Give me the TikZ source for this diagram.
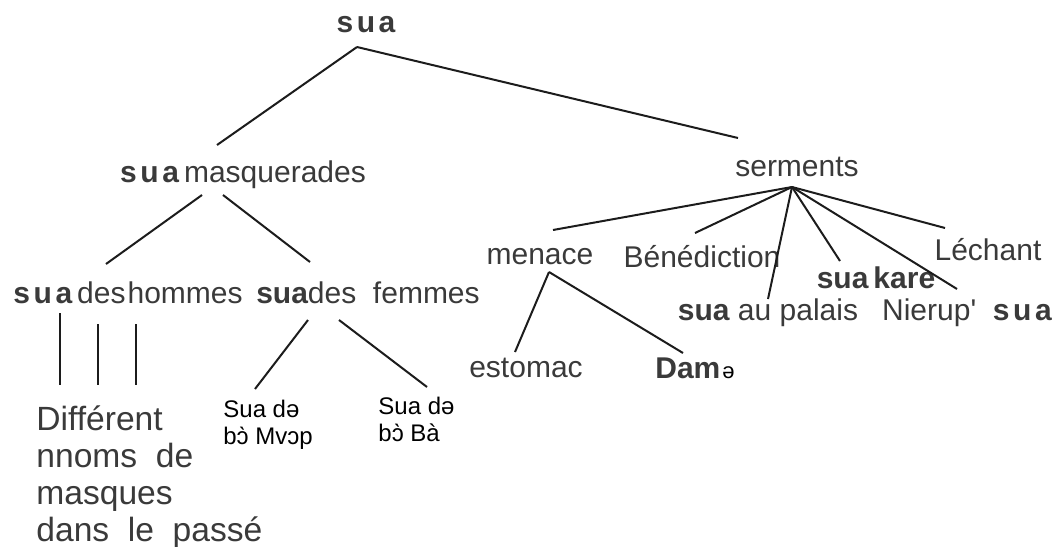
\documentclass[tikz,border=0pt]{standalone}
\usepackage{fontspec}
\setmainfont{Liberation Sans}
\newfontfamily\spacedfont[LetterSpace=12]{Liberation Sans}
\usepackage{xcolor}
\usepackage{tikz}
\usetikzlibrary{positioning}
\usetikzlibrary{calc}

\definecolor{scan}{HTML}{3A3A3A}
\definecolor{ink}{HTML}{1C1C1C}
\newcommand{\ssua}{{\spacedfont\bfseries sua}}
\newcommand{\bsua}{{\bfseries sua}}

\tikzset{
	lab/.style={inner sep=0pt, text=scan, font=\fontsize{15}{18}\selectfont},
	note/.style={inner sep=0pt, anchor=north west, align=left, font=\fontsize{12}{13.5}\selectfont},
	branch/.style={draw=ink, line width=1pt},
}

\begin{document}
\begin{tikzpicture}[x=0.5pt, y=-0.5pt]
	\useasboundingbox (0,0) rectangle (1054,546);

	\node[lab] (top) at (366,25) {\ssua};
	\node[lab] (masq) at (243,175) {\ssua\,masquerades};
	\node[lab] (serm) at (797,167) {serments};

	\draw[branch] ($(top)+(-9,22)$) -- ($(masq)+(-26,-30)$);
	\draw[branch] ($(top)+(-9,22)$) -- ($(serm)+(-59,-29)$);

	% left part
	\node[lab] (hom) at (128,293) {\ssua\,des\kern1pt hommes};
	\node[lab] (fem) at (368,293) {\bsua des\ \ femmes};
	\draw[branch] ($(masq)+(-41,20)$) -- ($(hom)+(-22,-29)$);
	\draw[branch] ($(masq)+(-20,20)$) -- ($(fem)+(-58,-31)$);

	\node[lab, anchor=north west, align=left, font=\fontsize{16.8}{18.5}\selectfont] (diff) at (36,405)
		{Différent\\nnoms\ \ de\\masques\\dans\ \ le\ \ passé};
	\draw[branch] ($(hom)+(-68,20)$) -- ($(diff.north west)+(24,-20)$);
	\draw[branch] ($(hom)+(-30,31)$) -- ($(diff.north west)+(62,-20)$);
	\draw[branch] ($(hom)+(8,31)$) -- ($(diff.north west)+(100,-20)$);

	\node[note] (mvop) at (223,400) {Sua də\\bɔ̀ Mvɔp};
	\node[note] (ba) at (378,397) {Sua də\\bɔ̀ Bà};
	\draw[branch] ($(fem)+(-60,27)$) -- ($(mvop.north west)+(32,-11)$);
	\draw[branch] ($(fem)+(-29,27)$) -- ($(ba.north west)+(49,-10)$);

	% right part
	\node[lab] (men) at (540,257) {menace};
	\node[lab] (bene) at (702,257) {Bénédiction};
	\node[lab] (lech) at (988,250) {Léchant};
	\node[lab] (kare) at (876,278) {\bsua\,{\bfseries kare}};
	\node[lab] (palais) at (768,313) {\bsua\ au palais};
	\node[lab] (nier) at (967,313) {Nierup\textquotesingle\ \ \ssua};

	\draw[branch] ($(serm)+(-5,20)$) -- ($(men)+(13,-27)$);
	\draw[branch] ($(serm)+(-5,20)$) -- ($(bene)+(-7,-24)$);
	\draw[branch] ($(serm)+(-5,20)$) -- ($(palais)+(0,-14)$);
	\draw[branch] ($(serm)+(-5,20)$) -- ($(kare)+(-36,-17)$);
	\draw[branch] ($(serm)+(-5,20)$) -- ($(nier)+(-10,-24)$);
	\draw[branch] ($(serm)+(-5,20)$) -- ($(lech)+(-43,-22)$);

	\node[lab] (esto) at (526,368) {estomac};
	\node[lab] (dame) at (695,368) {{\bfseries Dam}\kern1pt{\color{black}\fontsize{11}{13}\selectfont ə}};
	\draw[branch] ($(men)+(9,15)$) -- ($(esto)+(-11,-16)$);
	\draw[branch] ($(men)+(9,15)$) -- ($(dame)+(-12,-15)$);
\end{tikzpicture}
\end{document}
